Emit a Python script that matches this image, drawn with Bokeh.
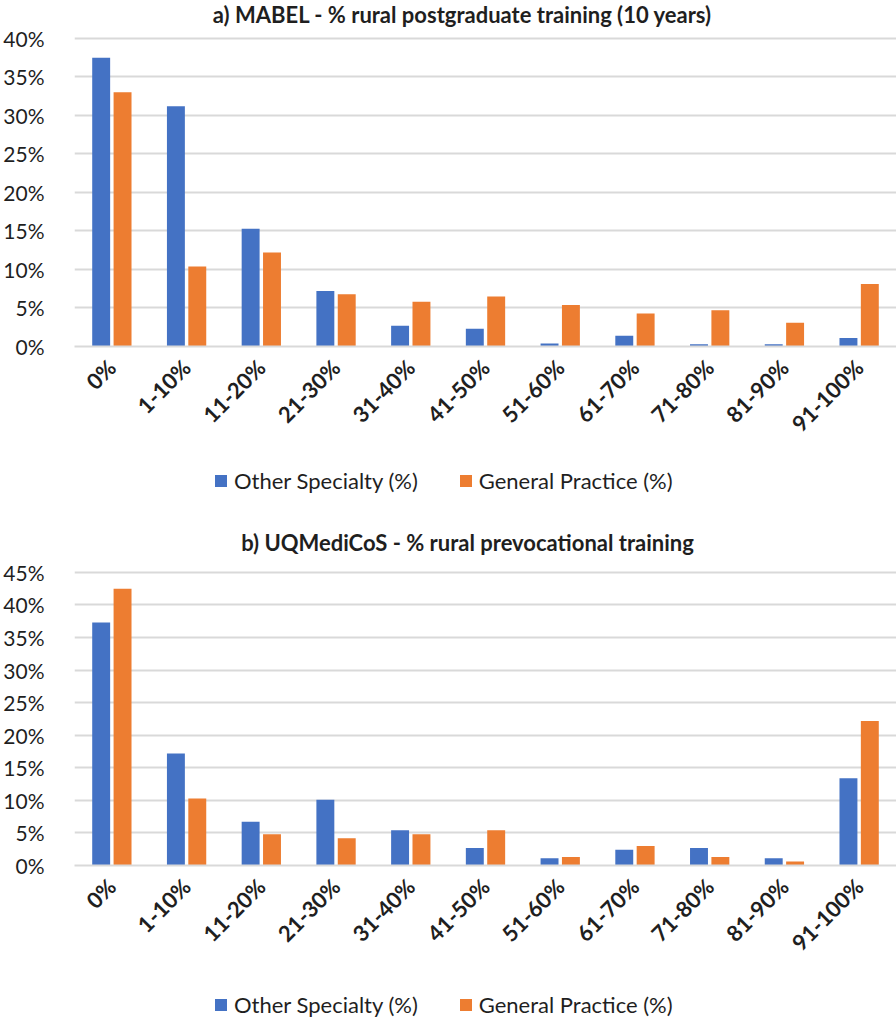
from bokeh.plotting import figure
from bokeh.models import (FactorRange, Range1d, FixedTicker, PrintfTickFormatter,
                          Label, Legend, LegendItem, ColumnDataSource)
from bokeh.transform import dodge
from bokeh.layouts import column
from bokeh.embed import file_html
from bokeh.resources import INLINE
import math

categories = ["0%", "1-10%", "11-20%", "21-30%", "31-40%", "41-50%",
              "51-60%", "61-70%", "71-80%", "81-90%", "91-100%"]

# a) MABEL - % rural postgraduate training (10 years)
mabel_other = [37.5, 31.2, 15.3, 7.2, 2.7, 2.3, 0.4, 1.4, 0.3, 0.3, 1.1]
mabel_gp = [33.0, 10.4, 12.2, 6.8, 5.8, 6.5, 5.4, 4.3, 4.7, 3.1, 8.1]

# b) UQMediCoS - % rural prevocational training
uq_other = [37.3, 17.2, 6.7, 10.1, 5.4, 2.7, 1.1, 2.4, 2.7, 1.1, 13.4]
uq_gp = [42.5, 10.3, 4.8, 4.2, 4.8, 5.4, 1.3, 3.0, 1.3, 0.6, 22.2]

titles = ["a) MABEL - % rural postgraduate training (10 years)",
          "b) UQMediCoS - % rural prevocational training"]
series_names = ["Other Specialty (%)", "General Practice (%)"]
y_ticks_a = [0, 5, 10, 15, 20, 25, 30, 35, 40]
y_ticks_b = [0, 5, 10, 15, 20, 25, 30, 35, 40, 45]

BLUE = "#4472C4"
ORANGE = "#ED7D31"
GRID = "#D9D9D9"
FONT = "Lato"
TXT = "#1f1f1f"
W = 896
LEFT = 70


def title_label(text, x, y):
    return Label(x=x, y=y, x_units="screen", y_units="screen", text=text,
                 text_align="center", text_baseline="middle", text_font=FONT,
                 text_font_size="22px", text_font_style="bold", text_color=TXT)


def make_legend(r1, r2, x, y):
    return Legend(items=[LegendItem(label=series_names[0], renderers=[r1]),
                         LegendItem(label=series_names[1], renderers=[r2])],
                  orientation="horizontal", location=(x, y),
                  padding=0, margin=0, spacing=40, label_standoff=6,
                  glyph_width=15, glyph_height=15, border_line_color=None,
                  background_fill_alpha=0, label_text_font=FONT,
                  label_text_font_size="22px", label_text_color=TXT)


def add_bars(p, src):
    r1 = p.vbar(x=dodge("cat", -0.143, range=p.x_range), top="other", width=0.24,
                source=src, fill_color=BLUE, line_color=None)
    r2 = p.vbar(x=dodge("cat", 0.143, range=p.x_range), top="gp", width=0.24,
                source=src, fill_color=ORANGE, line_color=None)
    return r1, r2


def make_chart(src, yticks, ymax, height, border_bottom):
    p = figure(width=W, height=height, x_range=FactorRange(factors=categories),
               y_range=Range1d(0, ymax), output_backend="svg", toolbar_location=None,
               min_border_left=LEFT, min_border_right=0, min_border_top=0,
               min_border_bottom=border_bottom, outline_line_color=None,
               background_fill_color="white", border_fill_color="white")
    r1, r2 = add_bars(p, src)

    p.xgrid.visible = False
    p.ygrid.grid_line_color = GRID
    p.ygrid.grid_line_width = 2
    p.ygrid.ticker = FixedTicker(ticks=yticks[1:])
    p.yaxis.ticker = FixedTicker(ticks=yticks)
    p.yaxis.formatter = PrintfTickFormatter(format="%d%%")
    p.yaxis.axis_line_color = None
    p.yaxis.major_tick_line_color = None
    p.yaxis.minor_tick_line_color = None
    p.yaxis.major_label_standoff = 24
    p.yaxis.major_label_text_font = FONT
    p.yaxis.major_label_text_font_size = "21px"
    p.yaxis.major_label_text_color = TXT

    p.xaxis.axis_line_color = GRID
    p.xaxis.axis_line_width = 2
    p.xaxis.major_tick_line_color = None
    p.xaxis.minor_tick_line_color = None
    p.xaxis.major_label_orientation = math.pi / 4
    p.xaxis.major_label_standoff = 11
    p.xaxis.major_label_text_font = FONT
    p.xaxis.major_label_text_font_size = "22px"
    p.xaxis.major_label_text_font_style = "bold"
    p.xaxis.major_label_text_color = TXT
    return p, r1, r2


src_a = ColumnDataSource(dict(cat=categories, other=mabel_other, gp=mabel_gp))
src_b = ColumnDataSource(dict(cat=categories, other=uq_other, gp=uq_gp))

# chart a: frame spans y 0..349 (0% at 349, 40% at ~38)
pa, ra1, ra2 = make_chart(src_a, y_ticks_a, 44.93, 449, 100)
pa.add_layout(title_label(titles[0], 388, 332))

# chart b: frame spans y 449..868 (0% at 868, 45% at ~573); holds legend a and title b
pb, rb1, rb2 = make_chart(src_b, y_ticks_b, 63.87, 519, 100)
pb.add_layout(make_legend(rb1, rb2, 139, 371))
pb.add_layout(title_label(titles[1], 393, 323))

# legend strip of chart b (its bars lie outside this strip's visible range)
pc = figure(width=W, height=52, output_backend="svg", toolbar_location=None,
            x_axis_location=None, y_axis_location=None,
            min_border_left=LEFT, min_border_right=0, min_border_top=0, min_border_bottom=0,
            outline_line_color=None, x_range=FactorRange(factors=categories),
            y_range=Range1d(1000, 1001))
pc.xgrid.visible = False
pc.ygrid.visible = False
lc1, lc2 = add_bars(pc, src_b)
pc.add_layout(make_legend(lc1, lc2, 139, 2))

layout = column(pa, pb, pc, spacing=0)
open("out.html", "w").write(file_html(layout, INLINE))
